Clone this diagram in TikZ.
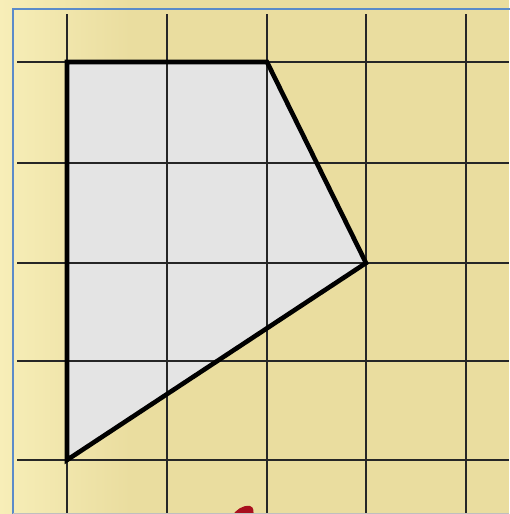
\documentclass[tikz,border=0pt]{standalone}
\definecolor{paper}{HTML}{EADD9F}
\definecolor{paperlight}{HTML}{F7EEB8}
\definecolor{frameblue}{HTML}{5B8BC9}
\definecolor{figgray}{HTML}{E4E4E4}
\definecolor{marker}{HTML}{A8101E}
\tikzset{
  gridline/.style={line width=2.8pt, draw=black!85},
  outline/.style={line width=4.6pt, draw=black, line join=miter},
  frame/.style={line width=1.5pt, draw=frameblue},
}
\begin{document}
\begin{tikzpicture}[x=1pt,y=-1pt]
\useasboundingbox (0,0) rectangle (509,514);
% background paper
\fill[paper] (0,0) rectangle (509,514);
\shade[left color=paperlight, right color=paper] (0,0) rectangle (130,514);
% blue frame
\draw[frame] (13,520) -- (13,9) -- (515,9);
% shaded figure
\coordinate (A) at (67,62);
\coordinate (B) at (267,62);
\coordinate (C) at (366,263);
\coordinate (D) at (67,460);
\fill[figgray] (A) -- (B) -- (C) -- (D) -- cycle;
% grid
\foreach \x in {67,167,267,366,466} \draw[gridline] (\x,14) -- (\x,514);
\foreach \y in {62,163,263,361,460} \draw[gridline] (17,\y) -- (509,\y);
% outline
\draw[outline] (A) -- (B) -- (C) -- (D) -- cycle;
% red mark at the bottom
\fill[marker] (232,516) .. controls (236,510) and (242,505) .. (250,506)
  .. controls (254,507) and (254,512) .. (253,516) -- cycle;
% bottom light line
\draw[black!25, line width=0.8pt] (13,513.5) -- (509,513.5);
\end{tikzpicture}
\end{document}
